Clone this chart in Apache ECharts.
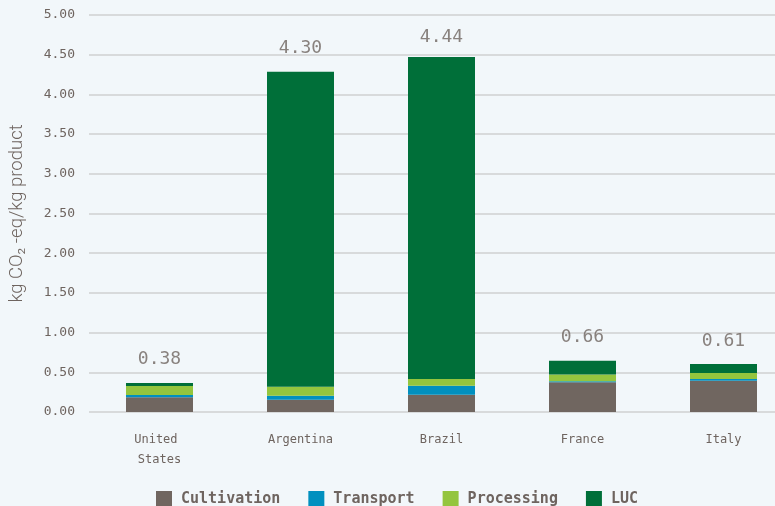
<!DOCTYPE html>
<html><head><meta charset="utf-8">
<script src="https://cdn.jsdelivr.net/npm/echarts@6/dist/echarts.min.js"></script>
<style>html,body{margin:0;padding:0;background:#f2f7fa;}#c{width:775px;height:506px;}</style>
</head><body><div id="c"></div>
<script>
const categories = ["United States", "Argentina", "Brazil", "France", "Italy"];
const cultivation = [0.185, 0.155, 0.218, 0.374, 0.395];
const transport = [0.029, 0.05, 0.113, 0.013, 0.021];
const processing = [0.113, 0.113, 0.084, 0.084, 0.076];
const luc = [0.038, 3.967, 4.055, 0.176, 0.113];
const totals = [0.38, 4.30, 4.44, 0.66, 0.61];
const yTicks = [0, 0.5, 1, 1.5, 2, 2.5, 3, 3.5, 4, 4.5, 5];

const txt = '#6e645f';
const mono = '"DejaVu Sans Mono", "Liberation Mono", monospace';
const chart = echarts.init(document.getElementById('c'));
function bar(name, data, color) {
  return { name, type: 'bar', stack: 'total', data, barWidth: 67,
    itemStyle: { color }, emphasis: { disabled: true } };
}
chart.setOption({
  backgroundColor: '#f2f7fa',
  animation: false,
  grid: { left: 89, right: -19, top: 15, bottom: 94, outerBoundsMode: 'none', containLabel: false },
  legend: {
    left: 151, top: 486, itemWidth: 16, itemHeight: 16, itemGap: 28,
    icon: 'rect',
    textStyle: { fontFamily: mono, fontWeight: 'bold', fontSize: 15, color: txt, padding: [0,0,0,4] },
    data: ['Cultivation', 'Transport', 'Processing', 'LUC']
  },
  xAxis: {
    type: 'category', data: categories,
    axisLine: { show: false }, axisTick: { show: false },
    axisLabel: { fontFamily: mono, fontSize: 12, color: txt, margin: 18, lineHeight: 20,
      width: 80, overflow: 'break', interval: 0 }
  },
  yAxis: {
    type: 'value', min: yTicks[0], max: yTicks[yTicks.length - 1], interval: yTicks[1] - yTicks[0],
    name: 'kg CO\u2082 -eq/kg product', nameLocation: 'middle', nameGap: 62,
    nameTextStyle: { fontFamily: 'Roboto', fontSize: 18.5, color: txt, fontWeight: 300 },
    axisLine: { show: false }, axisTick: { show: false },
    axisLabel: { fontFamily: mono, fontSize: 13, color: txt, margin: 14,
      formatter: v => v.toFixed(2) },
    splitLine: { lineStyle: { color: '#cfd0d1', width: 1.5 } }
  },
  series: [
    bar('Cultivation', cultivation, '#706660'),
    bar('Transport', transport, '#0190BF'),
    bar('Processing', processing, '#94C53E'),
    bar('LUC', luc, '#006F39'),
    { type: 'scatter', data: totals, symbolSize: 0, silent: true,
      label: { show: true, position: 'inside', offset: [0, -22], fontFamily: mono, fontSize: 18, color: txt,
        formatter: p => totals[p.dataIndex].toFixed(2) } }
  ]
});
</script></body></html>
